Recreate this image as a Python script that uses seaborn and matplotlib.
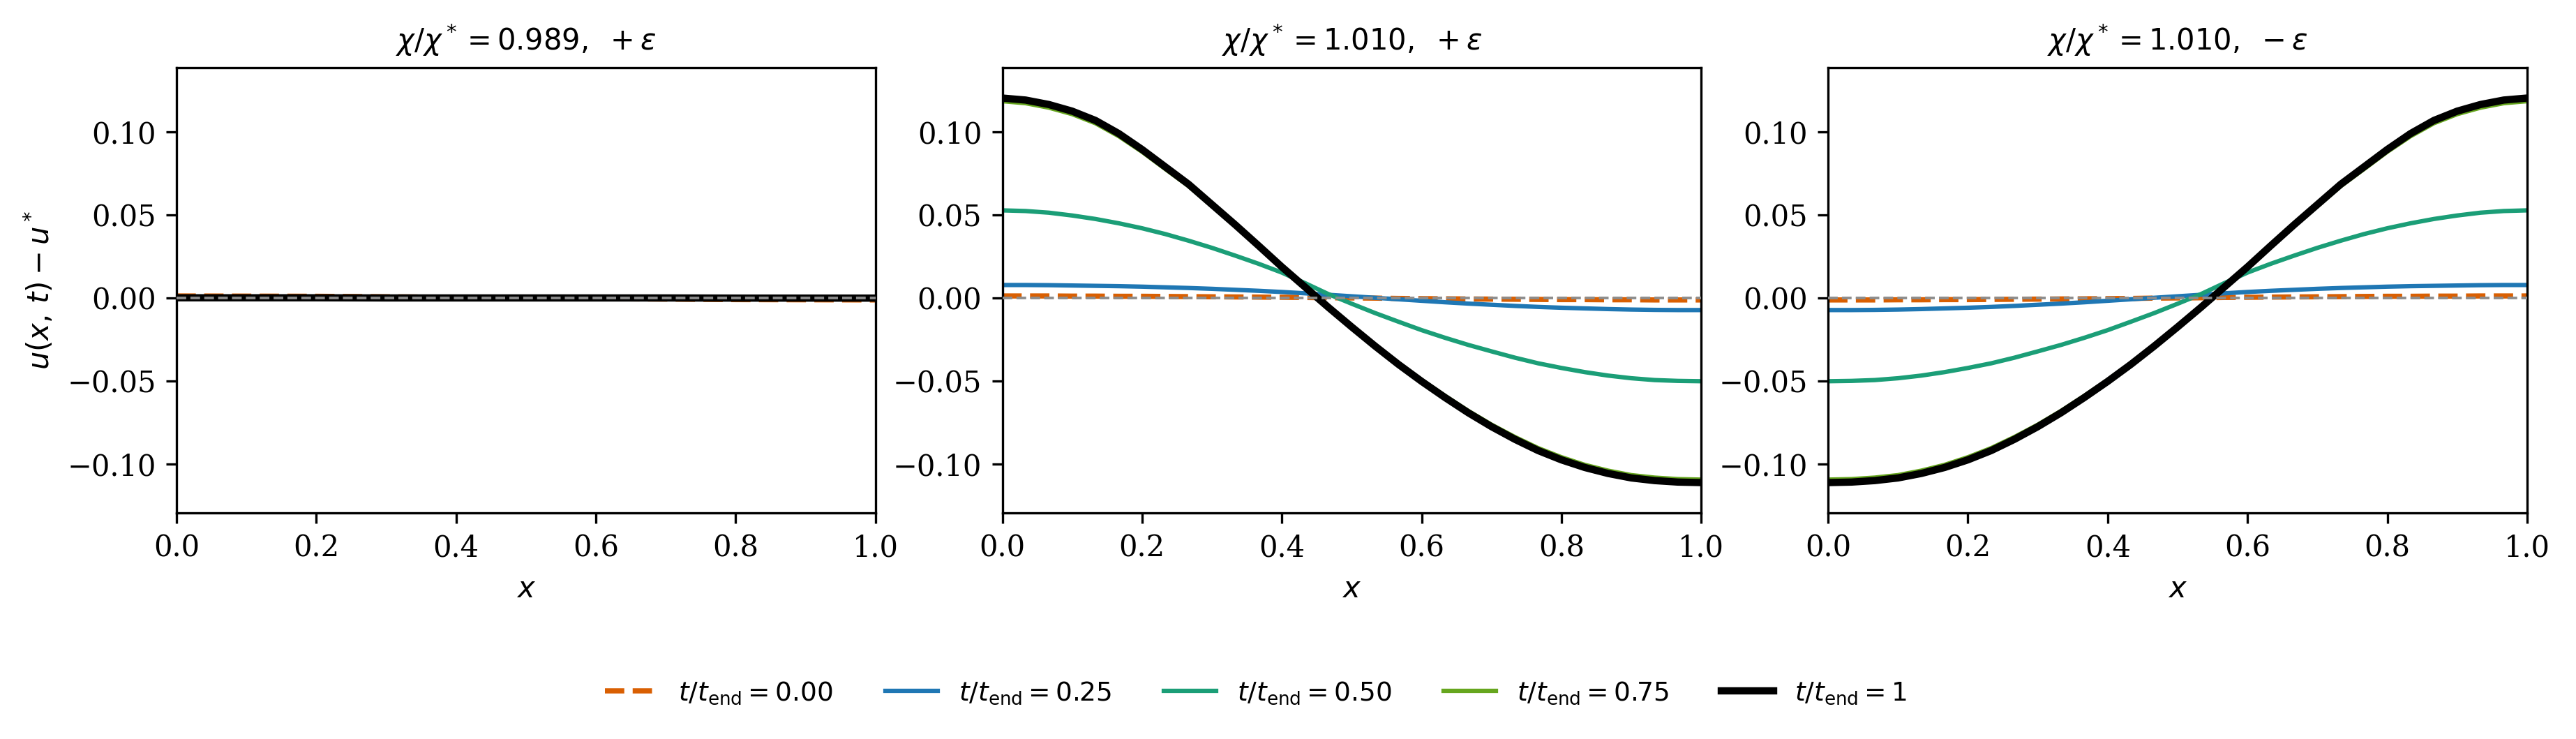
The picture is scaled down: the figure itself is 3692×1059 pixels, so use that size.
#!/usr/bin/env python3
"""Perturbation profiles u(x,t) - u* for three chi/chi* cases."""

import matplotlib

matplotlib.use("Agg")
import matplotlib.pyplot as plt
import numpy as np
import seaborn as sns

# x grid of the solver output (31 nodes)
X_FINE = np.linspace(0.0, 1.0, 31)
X_COARSE = np.linspace(0.0, 1.0, 11)

TIME_LABELS = [
    r"$t/t_{\rm end} = 0.00$",
    r"$t/t_{\rm end} = 0.25$",
    r"$t/t_{\rm end} = 0.50$",
    r"$t/t_{\rm end} = 0.75$",
    r"$t/t_{\rm end} = 1$",
]
PANEL_TITLES = [
    r"$\chi/\chi^* = 0.989,\ +\varepsilon$",
    r"$\chi/\chi^* = 1.010,\ +\varepsilon$",
    r"$\chi/\chi^* = 1.010,\ -\varepsilon$",
]

# panel 1: chi/chi* = 0.989, +eps (perturbation decays)
p1_t000 = [0.0012, 0.0011, 0.0010, 0.0007, 0.0004, 0.0000, -0.0004, -0.0007, -0.0010, -0.0011, -0.0012]
p1_t025 = [0.0006, 0.0006, 0.0005, 0.0003, 0.0002, 0.0000, -0.0002, -0.0003, -0.0005, -0.0006, -0.0006]
p1_t050 = [0.0003, 0.0003, 0.0002, 0.0002, 0.0001, 0.0000, -0.0001, -0.0002, -0.0002, -0.0003, -0.0003]
p1_t075 = [0.0002, 0.0002, 0.0001, 0.0001, 0.0000, 0.0000, 0.0000, -0.0001, -0.0001, -0.0002, -0.0002]
p1_t100 = [0.0001, 0.0001, 0.0001, 0.0000, 0.0000, 0.0000, 0.0000, 0.0000, -0.0001, -0.0001, -0.0001]

# panel 2: chi/chi* = 1.010, +eps (perturbation grows)
p2_t000 = [0.0012, 0.0012, 0.0012, 0.0011, 0.0011, 0.0010, 0.0010, 0.0009, 0.0008, 0.0007, 0.0006,
           0.0005, 0.0004, 0.0003, 0.0001, 0.0000, -0.0001, -0.0003, -0.0004, -0.0005, -0.0006,
           -0.0007, -0.0008, -0.0009, -0.0010, -0.0010, -0.0011, -0.0011, -0.0012, -0.0012, -0.0012]
p2_t025 = [0.0078, 0.0078, 0.0077, 0.0075, 0.0073, 0.0071, 0.0068, 0.0064, 0.0060, 0.0055, 0.0049,
           0.0043, 0.0036, 0.0028, 0.0019, 0.0010, 0.0001, -0.0008, -0.0017, -0.0026, -0.0034,
           -0.0041, -0.0048, -0.0054, -0.0059, -0.0063, -0.0067, -0.0070, -0.0072, -0.0073, -0.0073]
p2_t050 = [0.0528, 0.0524, 0.0514, 0.0497, 0.0476, 0.0450, 0.0420, 0.0385, 0.0345, 0.0302, 0.0255,
           0.0206, 0.0153, 0.0089, 0.0023, -0.0035, -0.0091, -0.0143, -0.0194, -0.0240, -0.0283,
           -0.0322, -0.0360, -0.0394, -0.0422, -0.0447, -0.0468, -0.0484, -0.0495, -0.0500, -0.0502]
p2_t075 = [0.1186, 0.1174, 0.1147, 0.1108, 0.1053, 0.0975, 0.0881, 0.0777, 0.0674, 0.0554, 0.0434,
           0.0310, 0.0184, 0.0064, -0.0056, -0.0172, -0.0285, -0.0394, -0.0495, -0.0590, -0.0681,
           -0.0764, -0.0838, -0.0905, -0.0960, -0.1006, -0.1041, -0.1068, -0.1083, -0.1092, -0.1095]
p2_t100 = [0.1205, 0.1193, 0.1166, 0.1126, 0.1070, 0.0991, 0.0895, 0.0790, 0.0685, 0.0563, 0.0441,
           0.0315, 0.0187, 0.0065, -0.0057, -0.0175, -0.0290, -0.0400, -0.0503, -0.0600, -0.0692,
           -0.0776, -0.0852, -0.0920, -0.0976, -0.1022, -0.1058, -0.1085, -0.1101, -0.1110, -0.1113]

# panel 3: chi/chi* = 1.010, -eps (mirror image of panel 2 in x)
p3_t000 = [-0.0012, -0.0012, -0.0012, -0.0011, -0.0011, -0.0010, -0.0010, -0.0009, -0.0008, -0.0007, -0.0006,
           -0.0005, -0.0004, -0.0003, -0.0001, 0.0000, 0.0001, 0.0003, 0.0004, 0.0005, 0.0006,
           0.0007, 0.0008, 0.0009, 0.0010, 0.0010, 0.0011, 0.0011, 0.0012, 0.0012, 0.0012]
p3_t025 = [-0.0073, -0.0073, -0.0072, -0.0070, -0.0067, -0.0063, -0.0059, -0.0054, -0.0048, -0.0041, -0.0034,
           -0.0026, -0.0017, -0.0008, 0.0001, 0.0010, 0.0019, 0.0028, 0.0036, 0.0043, 0.0049,
           0.0055, 0.0060, 0.0064, 0.0068, 0.0071, 0.0073, 0.0075, 0.0077, 0.0078, 0.0078]
p3_t050 = [-0.0502, -0.0500, -0.0495, -0.0484, -0.0468, -0.0447, -0.0422, -0.0394, -0.0360, -0.0322, -0.0283,
           -0.0240, -0.0194, -0.0143, -0.0091, -0.0035, 0.0023, 0.0089, 0.0153, 0.0206, 0.0255,
           0.0302, 0.0345, 0.0385, 0.0420, 0.0450, 0.0476, 0.0497, 0.0514, 0.0524, 0.0528]
p3_t075 = [-0.1095, -0.1092, -0.1083, -0.1068, -0.1041, -0.1006, -0.0960, -0.0905, -0.0838, -0.0764, -0.0681,
           -0.0590, -0.0495, -0.0394, -0.0285, -0.0172, -0.0056, 0.0064, 0.0184, 0.0310, 0.0434,
           0.0554, 0.0674, 0.0777, 0.0881, 0.0975, 0.1053, 0.1108, 0.1147, 0.1174, 0.1186]
p3_t100 = [-0.1113, -0.1110, -0.1101, -0.1085, -0.1058, -0.1022, -0.0976, -0.0920, -0.0852, -0.0776, -0.0692,
           -0.0600, -0.0503, -0.0400, -0.0290, -0.0175, -0.0057, 0.0065, 0.0187, 0.0315, 0.0441,
           0.0563, 0.0685, 0.0790, 0.0895, 0.0991, 0.1070, 0.1126, 0.1166, 0.1193, 0.1205]

PANELS = [
    (X_COARSE, [p1_t000, p1_t025, p1_t050, p1_t075, p1_t100]),
    (X_FINE, [p2_t000, p2_t025, p2_t050, p2_t075, p2_t100]),
    (X_FINE, [p3_t000, p3_t025, p3_t050, p3_t075, p3_t100]),
]

COLORS = ["#d95f02", "#1f77b4", "#1b9e77", "#66a61e", "black"]
WIDTHS = [1.8, 1.5, 1.5, 1.5, 2.5]
STYLES = ["--", "-", "-", "-", "-"]


def main() -> None:
    plt.rcParams["font.family"] = "serif"
    plt.rcParams["font.serif"] = ["DejaVu Serif"]
    plt.rcParams["mathtext.fontset"] = "dejavusans"
    plt.rcParams["font.size"] = 10

    fig, axes = plt.subplots(1, 3, figsize=(3692 / 300, 1059 / 300), dpi=300)
    fig.subplots_adjust(left=0.0685, right=0.981, top=0.9084, bottom=0.3059, wspace=0.1816)

    for ax, title, (xs, series) in zip(axes, PANEL_TITLES, PANELS):
        for vals, label, color, lw, ls in zip(series, TIME_LABELS, COLORS, WIDTHS, STYLES):
            sns.lineplot(x=xs, y=vals, ax=ax, color=color, lw=lw, linestyle=ls, label=label)
        ax.axhline(0.0, color="0.55", lw=0.9, ls="--", zorder=5)
        ax.set_xlim(0.0, 1.0)
        ax.set_ylim(-0.1296, 0.1388)
        ax.set_yticks([-0.10, -0.05, 0.0, 0.05, 0.10])
        ax.set_title(title, fontsize=10)
        ax.set_xlabel(r"$x$", fontsize=10)
        ax.legend().remove()

    axes[0].set_ylabel(r"$u(x,\,t) - u^*$", fontsize=10)

    handles, labels = axes[1].get_legend_handles_labels()
    fig.legend(handles, labels, loc="center", bbox_to_anchor=(0.4876, 0.0623),
               ncol=5, frameon=False, fontsize=9)

    fig.savefig("out.png", dpi=300)
    plt.close(fig)


if __name__ == "__main__":
    main()
